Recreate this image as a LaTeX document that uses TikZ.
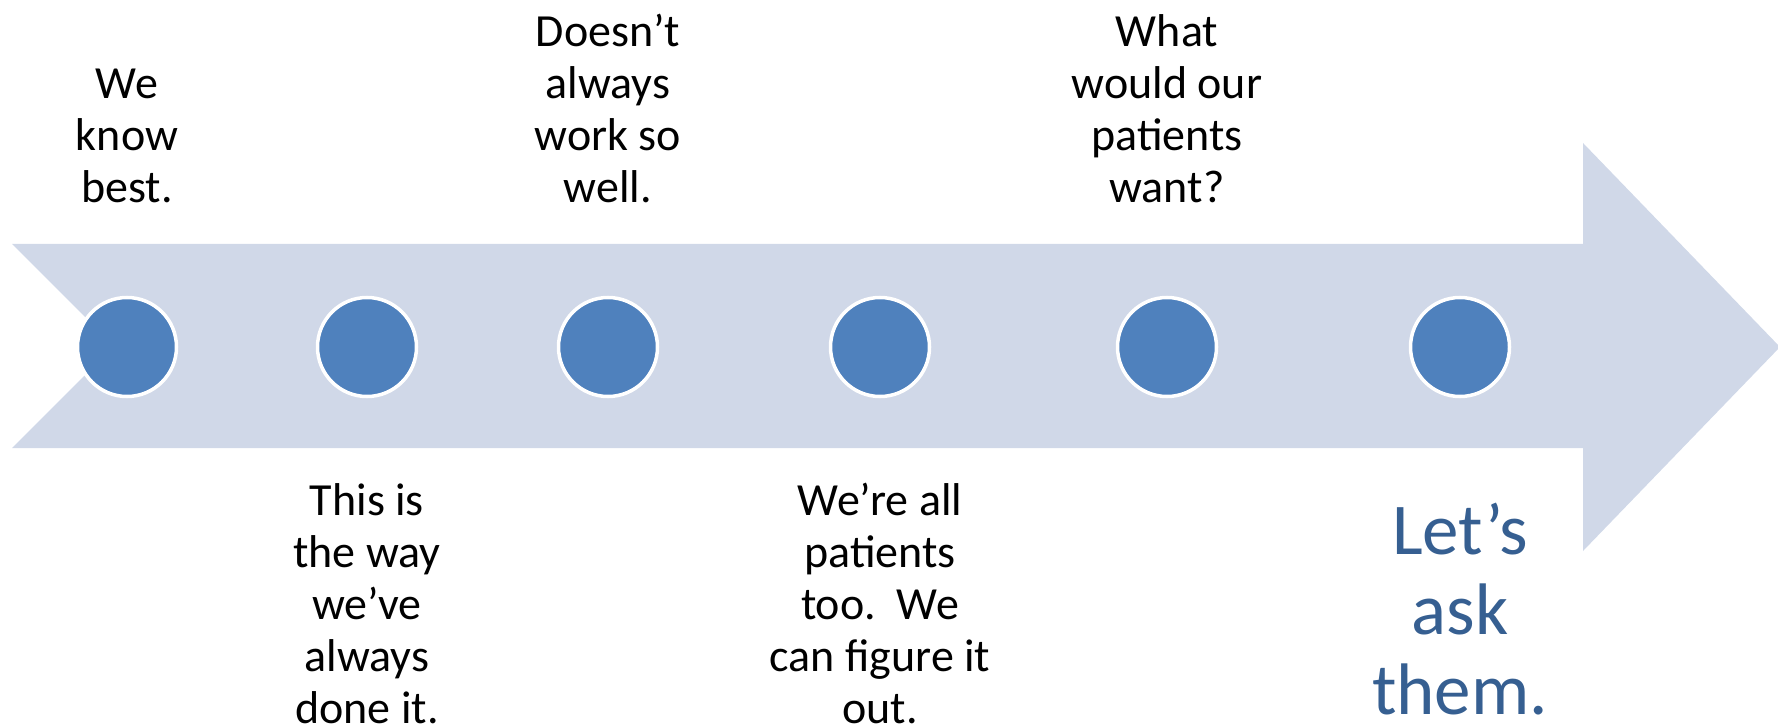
\documentclass[tikz,border=0pt]{standalone}
\usepackage{fontspec}
\setmainfont{Carlito}
\usepackage{xcolor}
\usepackage{tikz}
\usetikzlibrary{positioning,shapes}

\definecolor{arrowfill}{HTML}{D0D8E8}
\definecolor{dotfill}{HTML}{4F81BD}
\definecolor{asktext}{HTML}{365F91}

\begin{document}
\begin{tikzpicture}[x=1pt, y=-1pt,
  every dot/.style={circle, draw=white, line width=3.5pt, fill=dotfill, minimum size=99pt, inner sep=0pt},
  top note/.style={align=center, inner sep=0pt, anchor=south, font=\fontsize{46}{52}\selectfont},
  bottom note/.style={align=center, inner sep=0pt, anchor=north, font=\fontsize{46}{52}\selectfont},
  ask note/.style={align=center, inner sep=0pt, anchor=north, text=asktext, font=\fontsize{73}{80}\selectfont}]

\useasboundingbox (0,0) rectangle (1778,727);

% the big arrow
\fill [arrowfill] (12,244) -- (1583,244) -- (1583,143) -- (1780,347) -- (1583,551)
  -- (1583,448) -- (12,448) -- (114,346) -- cycle;

\foreach \x [count=\i] in {127,367,608,880,1167,1460}
  \node [every dot] (dot-\i) at (\x,347) {};

\node (top-1) [top note] at (127,203) {We\\know\\best.};
\node (top-3) [top note] at (608,203) {Doesn’t\\always\\work so\\well.};
\node (top-5) [top note] at (1167,203) {What\\would our\\patients\\want?};

\node (bottom-2) [bottom note] at (367,483) {This is\\the way\\we’ve\\always\\done it.};
\node (bottom-4) [bottom note] at (880,483) {We’re all\\patients\\too.\ \ We\\can figure it\\out.};

%\node [ask note] ...
\node (bottom-6) [ask note] at (1460,503) {Let’s\\ask\\them.};

\end{tikzpicture}
\end{document}
